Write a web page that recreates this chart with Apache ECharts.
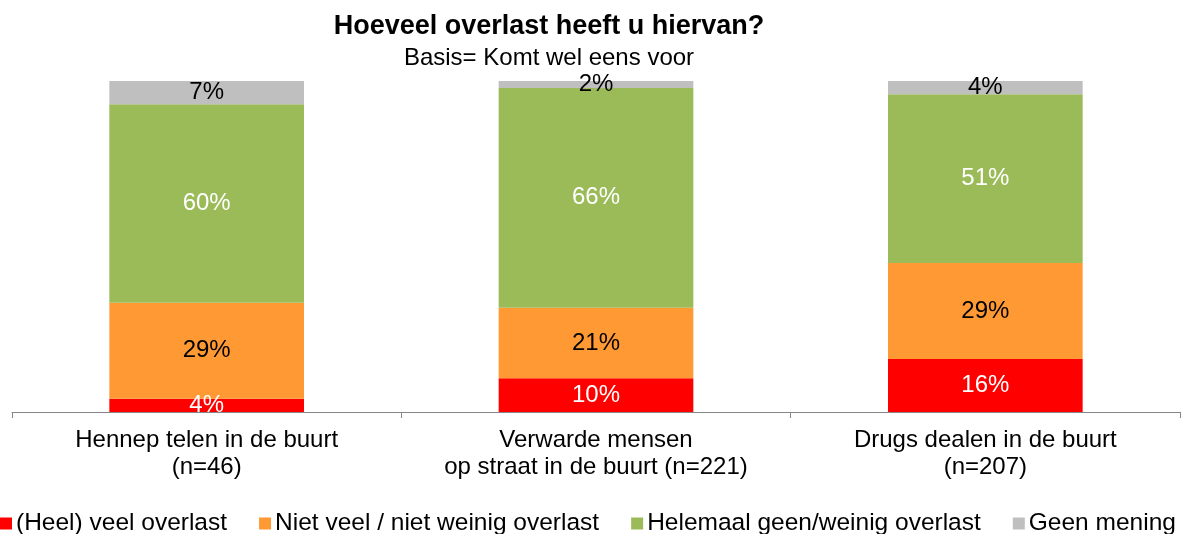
<!DOCTYPE html>
<html>
<head>
<meta charset="utf-8">
<script src="https://cdn.jsdelivr.net/npm/echarts@6/dist/echarts.min.js"></script>
<style>
html,body{margin:0;padding:0;background:#fff;}
#chart{width:1181px;height:534px;}
</style>
</head>
<body>
<div id="chart"></div>
<script>
const titleText = 'Hoeveel overlast heeft u hiervan?';
const subtitleText = 'Basis= Komt wel eens voor';
const categories = ['Hennep telen in de buurt\n(n=46)', 'Verwarde mensen\nop straat in de buurt (n=221)', 'Drugs dealen in de buurt\n(n=207)'];
const seriesNames = ['(Heel) veel overlast', 'Niet veel / niet weinig overlast', 'Helemaal geen/weinig overlast', 'Geen mening'];
const veelOverlast = [4, 10.2, 16];
const nietVeel = [29, 21.3, 29];
const helemaalGeen = [60, 66.4, 51];
const geenMening = [7, 2.1, 4];

const FONT = '"Liberation Sans", Arial, sans-serif';
const colors = ['#FF0000', '#FF9933', '#9BBB59', '#BFBFBF'];
const labelColors = ['#FFFFFF', '#000000', '#FFFFFF', '#000000'];
const dataSets = [veelOverlast, nietVeel, helemaalGeen, geenMening];

const chart = echarts.init(document.getElementById('chart'), null, {renderer: 'canvas'});
chart.setOption({
  animation: false,
  textStyle: {fontFamily: FONT},
  title: [
    {text: titleText, left: 544, top: 7, textAlign: 'center',
     textStyle: {fontFamily: FONT, fontSize: 27, fontWeight: 'bold', color: '#000', lineHeight: 30}},
    {text: subtitleText, left: 544, top: 40, textAlign: 'center',
     textStyle: {fontFamily: FONT, fontSize: 24, fontWeight: 'normal', color: '#000', lineHeight: 26}}
  ],
  legend: {
    data: seriesNames,
    left: -5, top: 506,
    itemWidth: 12, itemHeight: 12, itemGap: 32,
    icon: 'rect',
    textStyle: {fontFamily: FONT, fontSize: 24.5, color: '#000', lineHeight: 24, padding: [0,0,0,-1]}
  },
  grid: {left: 12, right: 1, top: 81, bottom: 122, containLabel: false},
  xAxis: {
    type: 'category',
    data: categories,
    axisLine: {show: true, lineStyle: {color: '#868686', width: 1}},
    axisTick: {show: true, length: 6, lineStyle: {color: '#868686'}},
    axisLabel: {fontFamily: FONT, fontSize: 24, color: '#000', lineHeight: 27, margin: 15, interval: 0}
  },
  yAxis: {
    type: 'value', min: 0, max: 100, show: false,
    splitLine: {show: false}
  },
  series: seriesNames.map((name, i) => ({
    name: name,
    type: 'bar',
    stack: 'total',
    barWidth: '50%',
    data: dataSets[i],
    itemStyle: {color: colors[i]},
    label: {
      show: true,
      position: 'inside',
      fontFamily: FONT,
      fontSize: 24,
      color: labelColors[i],
      formatter: p => Math.round(p.value) + '%'
    }
  }))
});
</script>
</body>
</html>
